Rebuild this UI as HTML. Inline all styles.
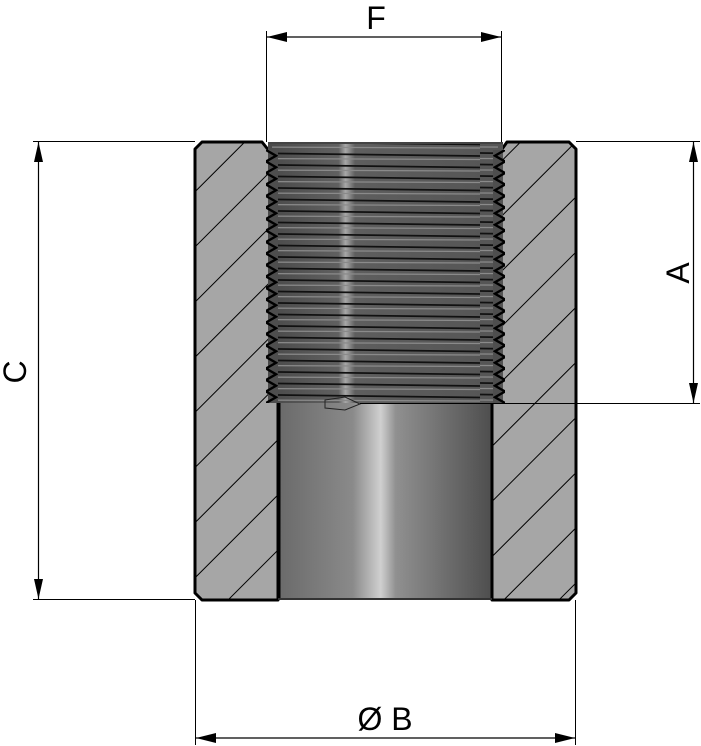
<!DOCTYPE html>
<html><head><meta charset="utf-8"><style>
html,body{margin:0;padding:0;background:#fff;width:701px;height:746px;overflow:hidden}
svg{display:block}
text{font-family:"Liberation Sans","DejaVu Sans",sans-serif;fill:#000}
</style></head><body>
<svg width="701" height="746" viewBox="0 0 701 746" xmlns="http://www.w3.org/2000/svg">
<defs>
<pattern id="hatch" patternUnits="userSpaceOnUse" width="39" height="39" patternTransform="rotate(-45 0 0)">
<rect width="39" height="39" fill="#a6a6a6"/>
<line x1="0" y1="0.5" x2="39" y2="0.5" stroke="#000" stroke-width="1.1"/>
</pattern>
<linearGradient id="bore" x1="0" x2="1" y1="0" y2="0">
<stop offset="0" stop-color="#6a6a6a"/>
<stop offset="0.35" stop-color="#8a8a8a"/>
<stop offset="0.48" stop-color="#d0d0d0"/>
<stop offset="0.55" stop-color="#909090"/>
<stop offset="1" stop-color="#4e4e4e"/>
</linearGradient>
<linearGradient id="thr" x1="0" x2="1" y1="0" y2="0">
<stop offset="0" stop-color="#4a4a4a"/>
<stop offset="0.3" stop-color="#606060"/>
<stop offset="0.33" stop-color="#a8a8a8"/>
<stop offset="0.37" stop-color="#5e5e5e"/>
<stop offset="1" stop-color="#555"/>
</linearGradient>
<pattern id="lines" patternUnits="userSpaceOnUse" width="240" height="11.5" y="150">
<rect width="240" height="11.5" fill="none"/>
<line x1="0" y1="3" x2="240" y2="6" stroke="#111" stroke-width="1.8"/>
<line x1="0" y1="8.5" x2="240" y2="9.5" stroke="#8a8a8a" stroke-width="1.2"/>
</pattern>
<pattern id="teethL" patternUnits="userSpaceOnUse" width="12" height="11.5" x="266" y="150">
<polygon points="0,0 10,5.75 0,11.5 12,11.5 12,0" fill="#4e4e4e"/>
<polyline points="0,0 10,5.75 0,11.5" fill="none" stroke="#000" stroke-width="2.4"/>
</pattern>
<pattern id="teethR" patternUnits="userSpaceOnUse" width="12" height="11.5" x="493" y="150">
<polygon points="12,0 2,5.75 12,11.5 0,11.5 0,0" fill="#4e4e4e"/>
<polyline points="12,0 2,5.75 12,11.5" fill="none" stroke="#000" stroke-width="2.4"/>
</pattern>
</defs>

<path d="M202,142 L262,142 L270,152 L278,152 L278,600 L202,600 L195,593 L195,149 Z" fill="url(#hatch)" stroke="#000" stroke-width="3" stroke-linejoin="round"/>
<path d="M507,142 L569,142 L576,149 L576,593 L569,600 L492,600 L492,152 L500,152 Z" fill="url(#hatch)" stroke="#000" stroke-width="3" stroke-linejoin="round"/>

<rect x="268" y="143" width="235" height="260" fill="url(#thr)"/>
<rect x="272" y="143" width="226" height="260" fill="url(#lines)"/>
<rect x="266" y="150" width="12" height="253" fill="url(#teethL)"/>
<rect x="493" y="150" width="12" height="253" fill="url(#teethR)"/>
<line x1="268" y1="143" x2="503" y2="143" stroke="#444" stroke-width="2"/>

<rect x="278" y="403" width="214" height="197" fill="url(#bore)"/>
<line x1="279" y1="403" x2="279" y2="600" stroke="#000" stroke-width="3"/>
<line x1="492" y1="403" x2="492" y2="600" stroke="#000" stroke-width="3"/>
<line x1="278" y1="599" x2="492" y2="599" stroke="#333" stroke-width="2"/>
<path d="M325,400 L345,397 L360,404 L345,410 L325,408 Z" fill="none" stroke="#222" stroke-width="1"/>

<line x1="266.5" y1="31" x2="266.5" y2="142" stroke="#000" stroke-width="1"/>
<line x1="501.5" y1="31" x2="501.5" y2="142" stroke="#000" stroke-width="1"/>
<line x1="267" y1="37" x2="501" y2="37" stroke="#000" stroke-width="1.2"/>
<polygon points="267,37 287,32 287,42" fill="#000"/>
<polygon points="501,37 481,32 481,42" fill="#000"/>
<text x="376" y="29" font-size="32" text-anchor="middle">F</text>

<line x1="33" y1="141.5" x2="195" y2="141.5" stroke="#000" stroke-width="1"/>
<line x1="33" y1="599.5" x2="195" y2="599.5" stroke="#000" stroke-width="1"/>
<line x1="38.5" y1="142" x2="38.5" y2="599" stroke="#000" stroke-width="1.2"/>
<polygon points="38.5,142 34,162 43,162" fill="#000"/>
<polygon points="38.5,599 34,579 43,579" fill="#000"/>
<text x="0" y="0" font-size="32" text-anchor="middle" transform="translate(26,372) rotate(-90)">C</text>

<line x1="576" y1="141.5" x2="700" y2="141.5" stroke="#000" stroke-width="1"/>
<line x1="360" y1="403.5" x2="700" y2="403.5" stroke="#000" stroke-width="1"/>
<line x1="693.5" y1="142" x2="693.5" y2="403" stroke="#000" stroke-width="1.2"/>
<polygon points="693.5,142 689,162 698,162" fill="#000"/>
<polygon points="693.5,403 689,383 698,383" fill="#000"/>
<text x="0" y="0" font-size="32" text-anchor="middle" transform="translate(689,273) rotate(-90)">A</text>

<line x1="195.5" y1="600" x2="195.5" y2="745" stroke="#000" stroke-width="1"/>
<line x1="575.5" y1="600" x2="575.5" y2="745" stroke="#000" stroke-width="1"/>
<line x1="196" y1="738" x2="575" y2="738" stroke="#000" stroke-width="1.2"/>
<polygon points="196,738 216,733 216,743" fill="#000"/>
<polygon points="575,738 555,733 555,743" fill="#000"/>
<text x="385" y="730" font-size="32" text-anchor="middle">Ø B</text>
</svg>
</body></html>
